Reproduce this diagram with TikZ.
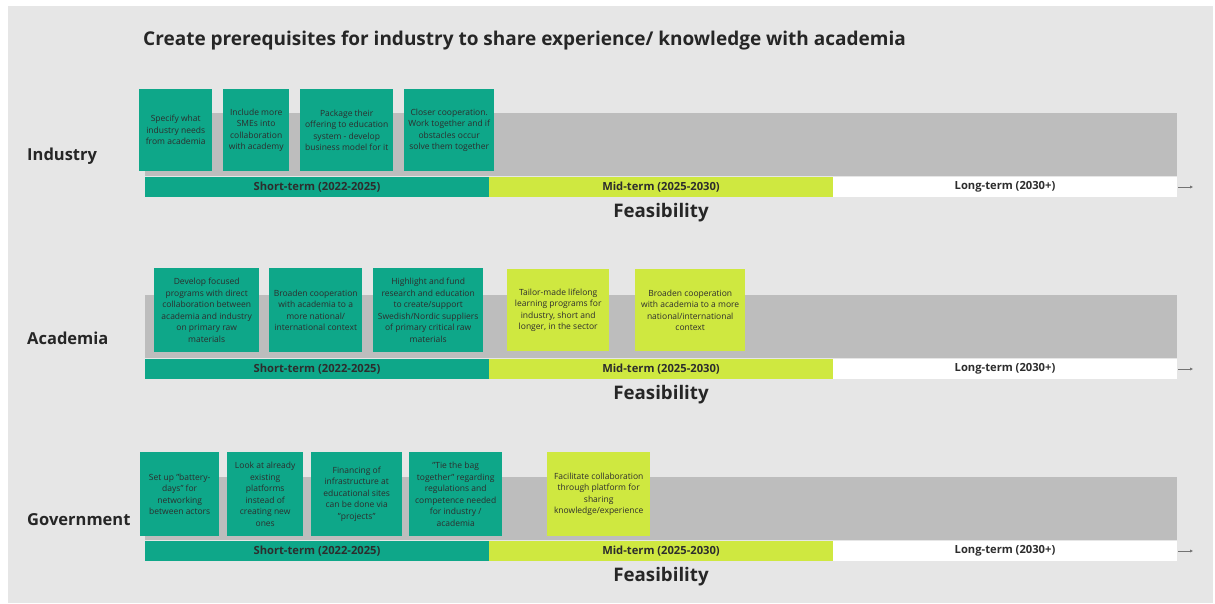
\documentclass[tikz,border=0pt]{standalone}
\usepackage{fontspec}
\setmainfont{Open Sans}
\usepackage{xcolor}
\usepackage{tikz}
\usetikzlibrary{arrows.meta, positioning}

\definecolor{stickygreen}{RGB}{14,167,137}
\definecolor{stickylime}{RGB}{207,232,64}
\definecolor{bandgrey}{RGB}{189,189,189}
\definecolor{boardgrey}{RGB}{230,230,230}
\definecolor{notetext}{RGB}{45,45,45}

\newcommand{\stickyfont}{\fontsize{8.5}{11.5}\selectfont}

\tikzset{
    note/.style={fill=stickygreen, text=notetext, font=\stickyfont, align=center, anchor=north west, inner sep=1pt},
    midnote/.style={note, fill=stickylime},
    bar/.style={anchor=north west, minimum width=344pt, minimum height=20pt, inner sep=0pt, outer sep=0pt, text=notetext, font=\fontsize{11.2}{12}\selectfont\bfseries},
    rowlabel/.style={anchor=west, inner sep=0pt, text=black!85, font=\fontsize{16.5}{18}\selectfont\bfseries},
    feas/.style={text=black!85, font=\fontsize{18.7}{21}\selectfont\bfseries},
    timearrow/.style={draw=black!55, -{Latex[length=3pt, width=3pt]}}
}

\begin{document}
\begin{tikzpicture}[x=1pt, y=-1pt]
    \useasboundingbox (0,0) rectangle (1215,603);
    \fill[white] (0,0) rectangle (1215,603);
    \fill[boardgrey] (8,6) rectangle (1213,603);

    % Title
    \node[anchor=west, inner sep=0pt, text=black!85, font=\fontsize{19}{22}\selectfont\bfseries] (title) at (143,41)
        {Create prerequisites for industry to share experience/ knowledge with academia};

    % Bands, timelines and labels of the three rows
    \foreach \r/\lbl [count=\i] in {0/Industry, 182/Academia, 364/Government} {
        \fill[bandgrey] (145,113+\r) rectangle (1177,176+\r);

        \node[bar, fill=stickygreen] (short\i) at (145,177+\r) {Short-term (2022-2025)};
        \node[bar, fill=stickylime, right=0pt of short\i] (mid\i) {Mid-term (2025-2030)};
        \node[bar, fill=white, right=0pt of mid\i] (long\i) {Long-term (2030+)};
        \coordinate[right=16pt of long\i] (end\i);
        \draw[timearrow] ([xshift=1pt]long\i.east) -- (end\i);

        \node[feas] (feas\i) at (661,213+\r) {Feasibility};
        \node[rowlabel] (row\i) at (27,156+\r) {\lbl};
    }

    % Industry
    \node[note, minimum width=73pt, minimum height=82pt] (ind1) at (139,89) {Specify what\\industry needs\\from academia};
    \node[note, minimum width=66pt, minimum height=82pt] (ind2) at (223,89) {Include more\\SMEs into\\collaboration\\with academy};
    \node[note, minimum width=93pt, minimum height=82pt] (ind3) at (300,89) {Package their\\offering to education\\system - develop\\business model for it};
    \node[note, minimum width=90pt, minimum height=82pt] (ind4) at (404,89) {Closer cooperation.\\Work together and if\\obstacles occur\\solve them together};

    % Academia
    \node[note, minimum width=105pt, minimum height=84pt] (aca1) at (154,268) {Develop focused\\programs with direct\\collaboration between\\academia and industry\\on primary raw\\materials};
    \node[note, minimum width=93pt, minimum height=84pt] (aca2) at (269,268) {Broaden cooperation\\with academia to a\\more national/\\international context};
    \node[note, minimum width=110pt, minimum height=84pt] (aca3) at (373,268) {Highlight and fund\\research and education\\to create/support\\Swedish/Nordic suppliers\\of primary critical raw\\materials};
    \node[midnote, minimum width=102pt, minimum height=82pt] (aca4) at (507,269) {Tailor-made lifelong\\learning programs for\\industry, short and\\longer, in the sector};
    \node[midnote, minimum width=110pt, minimum height=82pt] (aca5) at (635,269) {Broaden cooperation\\with academia to a more\\national/international\\context};

    % Government
    \node[note, minimum width=79pt, minimum height=84pt] (gov1) at (140,452) {Set up "battery-\\days" for\\networking\\between actors};
    \node[note, minimum width=76pt, minimum height=84pt] (gov2) at (227,452) {Look at already\\existing\\platforms\\instead of\\creating new\\ones};
    \node[note, minimum width=91pt, minimum height=84pt] (gov3) at (311,452) {Financing of\\infrastructure at\\educational sites\\can be done via\\"projects"};
    \node[note, minimum width=93pt, minimum height=84pt] (gov4) at (409,452) {"Tie the bag\\together" regarding\\regulations and\\competence needed\\for industry /\\academia};
    \node[midnote, minimum width=103pt, minimum height=84pt] (gov5) at (547,452) {Facilitate collaboration\\through platform for\\sharing\\knowledge/experience};
\end{tikzpicture}
\end{document}
